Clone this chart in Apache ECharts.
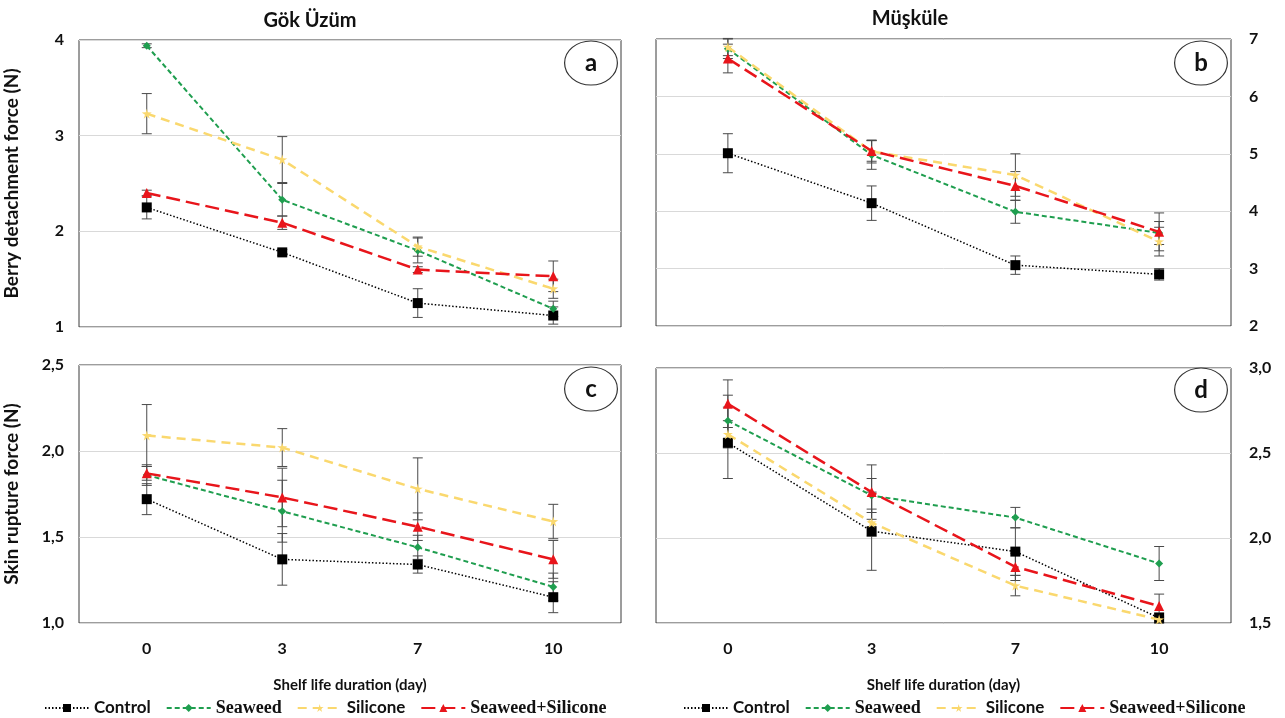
<!DOCTYPE html>
<html>
<head>
<meta charset="utf-8">
<script src="https://cdn.jsdelivr.net/npm/echarts@6/dist/echarts.min.js"></script>
<style>
    html, body { margin: 0; padding: 0; background: #fff; }
    #main { width: 1285px; height: 718px; }
</style>
</head>
<body>
<div id="main"></div>
<script>
    var days = ['0', '3', '7', '10'];
    var names = ['Control', 'Seaweed', 'Silicone', 'Seaweed+Silicone'];

    // a - Gök Üzüm, berry detachment force
    var aControl = [2.25, 1.78, 1.25, 1.12];
    var aControlErr = [0.12, 0.03, 0.15, 0.09];
    var aSeaweed = [3.94, 2.33, 1.80, 1.19];
    var aSeaweedErr = [0.02, 0.17, 0.13, 0.08];
    var aSilicone = [3.23, 2.75, 1.84, 1.40];
    var aSiliconeErr = [0.21, 0.24, 0.10, 0.10];
    var aMix = [2.40, 2.09, 1.60, 1.53];
    var aMixErr = [0.03, 0.07, 0.03, 0.16];

    // b - Müşküle, berry detachment force
    var bControl = [5.01, 4.14, 3.06, 2.90];
    var bControlErr = [0.34, 0.30, 0.16, 0.10];
    var bSeaweed = [6.83, 4.98, 3.99, 3.62];
    var bSeaweedErr = [0.17, 0.25, 0.20, 0.20];
    var bSilicone = [6.86, 5.04, 4.63, 3.47];
    var bSiliconeErr = [0.15, 0.20, 0.37, 0.25];
    var bMix = [6.66, 5.05, 4.44, 3.64];
    var bMixErr = [0.25, 0.18, 0.25, 0.33];

    // c - Gök Üzüm, skin rupture force
    var cControl = [1.72, 1.37, 1.34, 1.15];
    var cControlErr = [0.09, 0.15, 0.05, 0.09];
    var cSeaweed = [1.86, 1.65, 1.44, 1.21];
    var cSeaweedErr = [0.06, 0.18, 0.07, 0.08];
    var cSilicone = [2.09, 2.02, 1.78, 1.59];
    var cSiliconeErr = [0.18, 0.11, 0.18, 0.10];
    var cMix = [1.87, 1.73, 1.56, 1.37];
    var cMixErr = [0.04, 0.17, 0.08, 0.11];

    // d - Müşküle, skin rupture force
    var dControl = [2.56, 2.04, 1.92, 1.53];
    var dControlErr = [0.21, 0.23, 0.14, 0.03];
    var dSeaweed = [2.69, 2.25, 2.12, 1.85];
    var dSeaweedErr = [0.15, 0.10, 0.06, 0.10];
    var dSilicone = [2.61, 2.09, 1.72, 1.52];
    var dSiliconeErr = [0.08, 0.08, 0.06, 0.02];
    var dMix = [2.79, 2.27, 1.83, 1.60];
    var dMixErr = [0.14, 0.16, 0.08, 0.07];

    var panels = [
        {vals: [aControl, aSeaweed, aSilicone, aMix], errs: [aControlErr, aSeaweedErr, aSiliconeErr, aMixErr]},
        {vals: [bControl, bSeaweed, bSilicone, bMix], errs: [bControlErr, bSeaweedErr, bSiliconeErr, bMixErr]},
        {vals: [cControl, cSeaweed, cSilicone, cMix], errs: [cControlErr, cSeaweedErr, cSiliconeErr, cMixErr]},
        {vals: [dControl, dSeaweed, dSilicone, dMix], errs: [dControlErr, dSeaweedErr, dSiliconeErr, dMixErr]}
    ];

    var sans = 'Lato, "Open Sans", sans-serif';
    var serif = '"Liberation Serif", "DejaVu Serif", serif';

    var looks = [
        {color: '#000000', type: [1.5, 2], width: 1.5, symbol: 'rect', size: 10},
        {color: '#1f9e4f', type: [5, 3], width: 2, symbol: 'diamond', size: 8},
        {color: '#fad86e', type: [9, 6], width: 2.5, symbol: 'path://M5,0 L6,3.6 L10,3.8 L6.8,6 L8,10 L5,7.6 L2,10 L3.2,6 L0,3.8 L4,3.6 Z', size: 10},
        {color: '#e8151b', type: [14, 6], width: 2.5, symbol: 'triangle', size: 10}
    ];

    var grids = [
        {left: 79, top: 40, width: 542, height: 287},
        {left: 656, top: 39, width: 575, height: 287},
        {left: 79, top: 365, width: 542, height: 258},
        {left: 656, top: 368, width: 575, height: 255}
    ];
    grids.forEach(function (g) {
        g.show = true;
        g.borderColor = '#3a3a3a';
        g.borderWidth = 1;
        g.backgroundColor = '#fff';
    });

    var xAxes = grids.map(function (g, i) {
        return {
            type: 'category', gridIndex: i, data: days, boundaryGap: true,
            axisLine: {show: false}, axisTick: {show: false},
            axisLabel: {show: i >= 2, margin: 18, color: '#111', fontFamily: sans, fontWeight: 'bold', fontSize: 16},
            name: i >= 2 ? 'Shelf life duration (day)' : '',
            nameLocation: 'middle', nameGap: 55,
            nameTextStyle: {color: '#111', fontFamily: sans, fontWeight: 'bold', fontSize: 15}
        };
    });

    function comma(v) { return v.toFixed(1).replace('.', ','); }

    var yCfg = [
        {min: 1, max: 4, interval: 1, pos: 'left', name: 'Berry detachment force (N)', fmt: null},
        {min: 2, max: 7, interval: 1, pos: 'right', name: '', fmt: null},
        {min: 1, max: 2.5, interval: 0.5, pos: 'left', name: 'Skin rupture force (N)', fmt: comma},
        {min: 1.5, max: 3, interval: 0.5, pos: 'right', name: '', fmt: comma}
    ];
    var yAxes = yCfg.map(function (c, i) {
        return {
            type: 'value', gridIndex: i, min: c.min, max: c.max, interval: c.interval, position: c.pos,
            axisLine: {show: false}, axisTick: {show: false},
            splitLine: {lineStyle: {color: '#d9d9d9', width: 1}},
            axisLabel: {margin: c.pos === 'left' ? 15 : 18, color: '#111', fontFamily: sans, fontWeight: 'bold', fontSize: 16,
                formatter: c.fmt || function (v) { return String(v); }},
            name: c.name, nameLocation: 'middle', nameGap: 58, nameRotate: 90,
            nameTextStyle: {color: '#111', fontFamily: sans, fontWeight: 'bold', fontSize: 19}
        };
    });

    function errItem(params, api) {
        var hi = api.coord([api.value(0), api.value(2)]);
        var lo = api.coord([api.value(0), api.value(1)]);
        var w = 5;
        var st = {stroke: '#4a4a4a', lineWidth: 1};
        return {
            type: 'group',
            children: [
                {type: 'line', shape: {x1: hi[0], y1: hi[1], x2: lo[0], y2: lo[1]}, style: st},
                {type: 'line', shape: {x1: hi[0] - w, y1: hi[1], x2: hi[0] + w, y2: hi[1]}, style: st},
                {type: 'line', shape: {x1: lo[0] - w, y1: lo[1], x2: lo[0] + w, y2: lo[1]}, style: st}
            ]
        };
    }

    var series = [];
    panels.forEach(function (p, gi) {
        var bars = [];
        p.vals.forEach(function (vals, si) {
            vals.forEach(function (v, k) {
                bars.push([k, v - p.errs[si][k], v + p.errs[si][k]]);
            });
        });
        series.push({
            type: 'custom', xAxisIndex: gi, yAxisIndex: gi, renderItem: errItem,
            data: bars, z: 1, silent: true, clip: false
        });
        p.vals.forEach(function (vals, si) {
            var lk = looks[si];
            series.push({
                name: names[si], type: 'line', xAxisIndex: gi, yAxisIndex: gi,
                data: vals, symbol: lk.symbol, symbolSize: lk.size, showSymbol: true,
                color: lk.color, z: 3 + si,
                lineStyle: {color: lk.color, width: lk.width, type: lk.type},
                itemStyle: {color: lk.color}
            });
        });
    });

    function legendFmt(name) {
        return name.indexOf('Seaweed') === 0 ? '{s|' + name + '}' : '{n|' + name + '}';
    }
    var legendText = {
        rich: {
            n: {fontFamily: sans, fontWeight: 'bold', fontSize: 17, color: '#111'},
            s: {fontFamily: serif, fontWeight: 'bold', fontSize: 18, color: '#111'}
        }
    };
    var legends = [39, 678].map(function (x) {
        return {
            data: names, left: x, top: 694, itemWidth: 44, itemHeight: 10, itemGap: 15,
            formatter: legendFmt, textStyle: legendText, selectedMode: false
        };
    });

    var tags = [['a', 591, 63], ['b', 1201, 63], ['c', 591, 389], ['d', 1201, 390]];
    var graphic = [];
    tags.forEach(function (t) {
        graphic.push({
            type: 'circle', x: t[1], y: t[2], scaleX: 1.2, z: 50,
            shape: {cx: 0, cy: 0, r: 22},
            style: {fill: '#fff', stroke: '#333', lineWidth: 1, strokeNoScale: true}
        });
        graphic.push({
            type: 'text', x: t[1], y: t[2], z: 51,
            style: {text: t[0], fill: '#111', font: 'bold 24px ' + sans, textAlign: 'center', textVerticalAlign: 'middle'}
        });
    });

    var chart = echarts.init(document.getElementById('main'));
    chart.setOption({
        backgroundColor: '#fff',
        animation: false,
        title: [
            {text: 'Gök Üzüm', left: 305, top: 6, textAlign: 'center',
                textStyle: {fontFamily: sans, fontWeight: 'bold', fontSize: 20, color: '#111'}},
            {text: 'Müşküle', left: 905, top: 4, textAlign: 'center',
                textStyle: {fontFamily: sans, fontWeight: 'bold', fontSize: 20, color: '#111'}}
        ],
        legend: legends,
        grid: grids,
        xAxis: xAxes,
        yAxis: yAxes,
        graphic: graphic,
        series: series
    });
</script>
</body>
</html>
